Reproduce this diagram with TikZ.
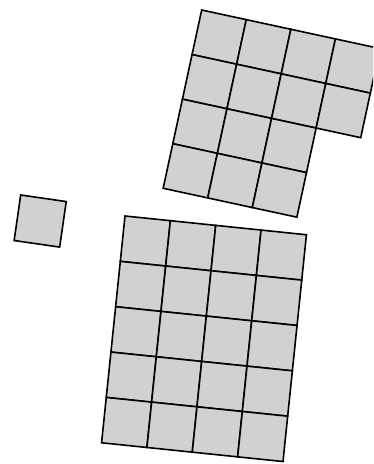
\documentclass[tikz,border=0pt]{standalone}
\begin{document}
\begin{tikzpicture}[x=1pt,y=-1pt,
  cellbox/.style={draw=black,fill=black!18,line width=1.6pt,line join=miter}]
\useasboundingbox (0,0) rectangle (373,464);
\clip (0,0) rectangle (373,464);
% top grid (14 cells)
\begin{scope}[shift={(201.7,10)},rotate=-12.2]
  \foreach \r in {0,1}{\foreach \c in {0,1,2,3}{
    \draw[cellbox] (\c*45.6,\r*45.6) rectangle ++(45.6,45.6);}}
  \foreach \r in {2,3}{\foreach \c in {0,1,2}{
    \draw[cellbox] (\c*45.6,\r*45.6) rectangle ++(45.6,45.6);}}
\end{scope}
% small single square
\begin{scope}[shift={(20.7,195)},rotate=-8.2]
  \draw[cellbox] (0,0) rectangle (46,46);
\end{scope}
% bottom grid (20 cells)
\begin{scope}[shift={(125,216)},rotate=-5.9]
  \foreach \r in {0,...,4}{\foreach \c in {0,...,3}{
    \draw[cellbox] (\c*45.6,\r*45.6) rectangle ++(45.6,45.6);}}
\end{scope}
\end{tikzpicture}
\end{document}
